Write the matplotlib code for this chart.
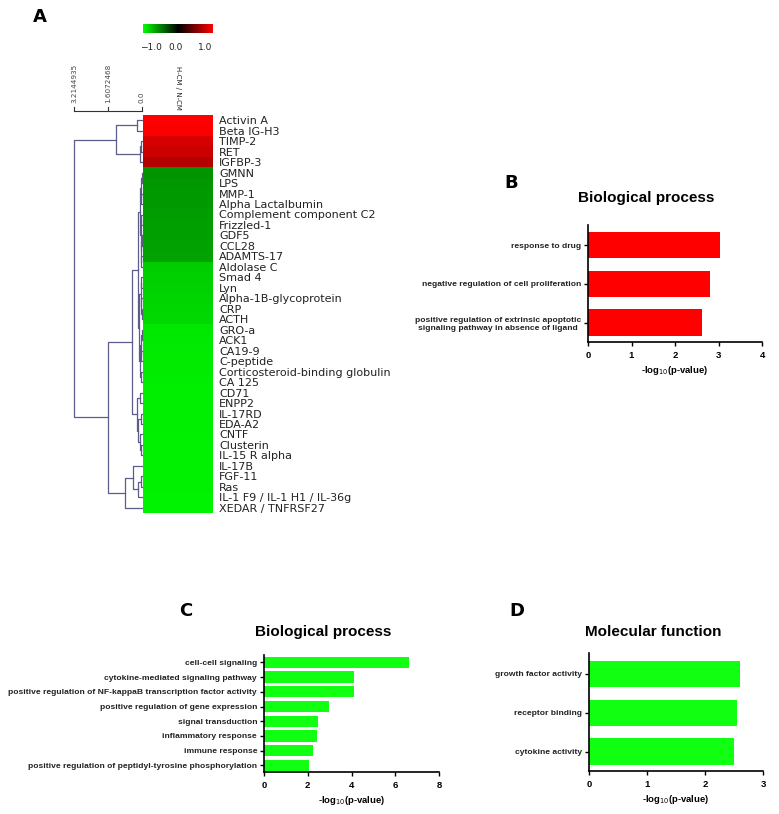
import numpy as np
import matplotlib.pyplot as plt
from matplotlib.colors import LinearSegmentedColormap

# heatmap data (H-CM / N-CM)
proteins = ["Activin A", "Beta IG-H3", "TIMP-2", "RET", "IGFBP-3", "GMNN", "LPS", "MMP-1",
            "Alpha Lactalbumin", "Complement component C2", "Frizzled-1", "GDF5", "CCL28",
            "ADAMTS-17", "Aldolase C", "Smad 4", "Lyn", "Alpha-1B-glycoprotein", "CRP", "ACTH",
            "GRO-a", "ACK1", "CA19-9", "C-peptide", "Corticosteroid-binding globulin", "CA 125",
            "CD71", "ENPP2", "IL-17RD", "EDA-A2", "CNTF", "Clusterin", "IL-15 R alpha", "IL-17B",
            "FGF-11", "Ras", "IL-1 F9 / IL-1 H1 / IL-36g", "XEDAR / TNFRSF27"]
ratio = [1.0, 0.98, 0.84, 0.80, 0.70, -0.58, -0.59, -0.60, -0.60, -0.61, -0.62, -0.62, -0.63,
         -0.64, -0.80, -0.81, -0.82, -0.83, -0.84, -0.85, -0.90, -0.91, -0.92, -0.92, -0.92, -0.93,
         -0.93, -0.93, -0.93, -0.93, -0.93, -0.94, -0.94, -0.94, -0.94, -0.94, -0.95, -0.95]

# dendrogram: (height, left, right), leaves are row indices
red_branch = (1.23, (0.24, 0, 1), (0.10, (0.05, 2, 3), 4))
g1 = (0.10, (0.04, (0.02, 5, 6), (0.03, 7, 8)),
      (0.06, (0.03, 9, 10), (0.04, (0.02, 11, 12), (0.03, 13, 14))))
g2 = (0.12, (0.05, (0.03, 15, 16), (0.04, 17, (0.02, 18, 19))),
      (0.08, (0.04, (0.02, 20, 21), (0.03, 22, 23)), (0.05, 24, 25)))
g3 = (0.25, (0.10, 26, 27), (0.18, (0.06, 28, 29), (0.10, 30, (0.04, 31, 32))))
g4 = (0.80, (0.43, 33, (0.20, (0.05, 34, 35), 36)), 37)
tree = (3.2, red_branch, (1.6, (0.45, (0.19, g1, g2), g3), g4))
scale_ticks = [3.2144935, 1.6072468, 0.0]

# GO enrichment
b_terms = ["response to drug", "negative regulation of cell proliferation",
           "positive regulation of extrinsic apoptotic\nsignaling pathway in absence of ligand"]
b_vals = [3.03, 2.80, 2.62]
c_terms = ["cell-cell signaling", "cytokine-mediated signaling pathway",
           "positive regulation of NF-kappaB transcription factor activity",
           "positive regulation of gene expression", "signal transduction",
           "inflammatory response", "immune response",
           "positive regulation of peptidyl-tyrosine phosphorylation"]
c_vals = [6.63, 4.12, 4.10, 2.98, 2.48, 2.41, 2.25, 2.07]
d_terms = ["growth factor activity", "receptor binding", "cytokine activity"]
d_vals = [2.60, 2.55, 2.50]

W, H = 779, 814
fig = plt.figure(figsize=(W / 100, H / 100), dpi=100)


def px_rect(l, t, r, b):
    return [l / W, 1 - b / H, (r - l) / W, (b - t) / H]


def px_text(x, y, s, **kw):
    fig.text(x / W, 1 - y / H, s, **kw)


cmap = LinearSegmentedColormap.from_list("gkr", [(0, "#00ff00"), (0.5, "black"), (1, "#ff0000")])
n = len(proteins)

# heatmap
axh = fig.add_axes(px_rect(143, 115, 213, 513))
axh.imshow(np.array(ratio).reshape(-1, 1), cmap=cmap, vmin=-1, vmax=1, aspect="auto",
           extent=[0, 1, n, 0], interpolation="nearest")
axh.set_xticks([])
axh.yaxis.tick_right()
axh.set_yticks(np.arange(n) + 0.5, proteins, fontsize=8, color="#222222")
axh.tick_params(axis="y", length=0, pad=4.5)
for s in axh.spines.values():
    s.set_visible(False)

# dendrogram
axd = fig.add_axes(px_rect(74, 115, 142, 513))
axd.set_xlim(scale_ticks[0], 0)
axd.set_ylim(n, 0)
axd.axis("off")


def draw_tree(ax, node):
    if isinstance(node, int):
        return node + 0.5, 0.0
    h, left, right = node
    y1, h1 = draw_tree(ax, left)
    y2, h2 = draw_tree(ax, right)
    ax.plot([h1, h, h, h2], [y1, y1, y2, y2], color="#5c5c8a", lw=0.9, clip_on=False)
    return (y1 + y2) / 2, h


draw_tree(axd, tree)

# dendrogram scale bar
y_bar = -0.38
axd.plot([scale_ticks[0], scale_ticks[-1]], [y_bar, y_bar], color="#333333", lw=0.8, clip_on=False)
for t in scale_ticks:
    axd.plot([t, t], [y_bar, y_bar - 0.38], color="#333333", lw=0.8, clip_on=False)
    axd.text(t, y_bar - 0.75, f"{t}", rotation=90, ha="center", va="bottom",
             fontsize=5.2, color="#444444", clip_on=False)

# colour bar
axc = fig.add_axes(px_rect(143, 24, 213, 33))
axc.imshow(np.linspace(-1, 1, 256).reshape(1, -1), cmap=cmap, aspect="auto")
axc.axis("off")
for x, s in zip([151, 176, 205], ["\u22121.0", "0.0", "1.0"]):
    px_text(x, 47, s, ha="center", va="center", fontsize=6.5, color="#222222")
px_text(178, 88, "H-CM / N-CM", rotation=270, ha="center", va="center", fontsize=5, color="#222222")

px_text(40, 17, "A", fontsize=13, fontweight="bold", ha="center", va="center")


def bar_panel(rect, terms, vals, color, xmax, xticks, ylim, height):
    ax = fig.add_axes(rect)
    y = np.arange(len(vals))
    ax.barh(y, vals, height=height, color=color)
    ax.set_xlim(0, xmax)
    ax.set_ylim(*ylim)
    ax.set_xticks(xticks)
    ax.set_yticks(y, terms, fontsize=6.1, fontweight="bold", color="#222222",
                  fontfamily="Liberation Sans", multialignment="center")
    ax.tick_params(axis="x", length=3, width=1, labelsize=6.8)
    ax.tick_params(axis="y", length=3, width=1, pad=2)
    for lab in ax.get_xticklabels():
        lab.set_fontweight("bold")
        lab.set_fontfamily("Liberation Sans")
    for side in ["top", "right"]:
        ax.spines[side].set_visible(False)
    for side in ["left", "bottom"]:
        ax.spines[side].set_linewidth(1.2)
    ax.set_xlabel("-log$_{10}$(p-value)", fontsize=6.8, fontweight="bold",
                  fontfamily="Liberation Sans", labelpad=3)
    return ax


title_kw = dict(fontsize=11, fontweight="bold", fontfamily="Liberation Sans",
                ha="center", va="center")

bar_panel(px_rect(588, 225, 762, 342), b_terms, b_vals, "#ff0000", 4, [0, 1, 2, 3, 4],
          (2.5, -0.52), 0.68)
px_text(646, 198, "Biological process", **title_kw)
px_text(511, 183, "B", fontsize=13, fontweight="bold", ha="center", va="center")

bar_panel(px_rect(264, 655, 439, 772), c_terms, c_vals, "#11ff11", 8, [0, 2, 4, 6, 8],
          (7.45, -0.5), 0.76)
px_text(323, 632, "Biological process", **title_kw)
px_text(186, 611, "C", fontsize=13, fontweight="bold", ha="center", va="center")

bar_panel(px_rect(589, 653, 763, 771), d_terms, d_vals, "#11ff11", 3, [0, 1, 2, 3],
          (2.5, -0.54), 0.68)
px_text(653, 632, "Molecular function", **title_kw)
px_text(517, 611, "D", fontsize=13, fontweight="bold", ha="center", va="center")

fig.savefig("out.png", dpi=100)
